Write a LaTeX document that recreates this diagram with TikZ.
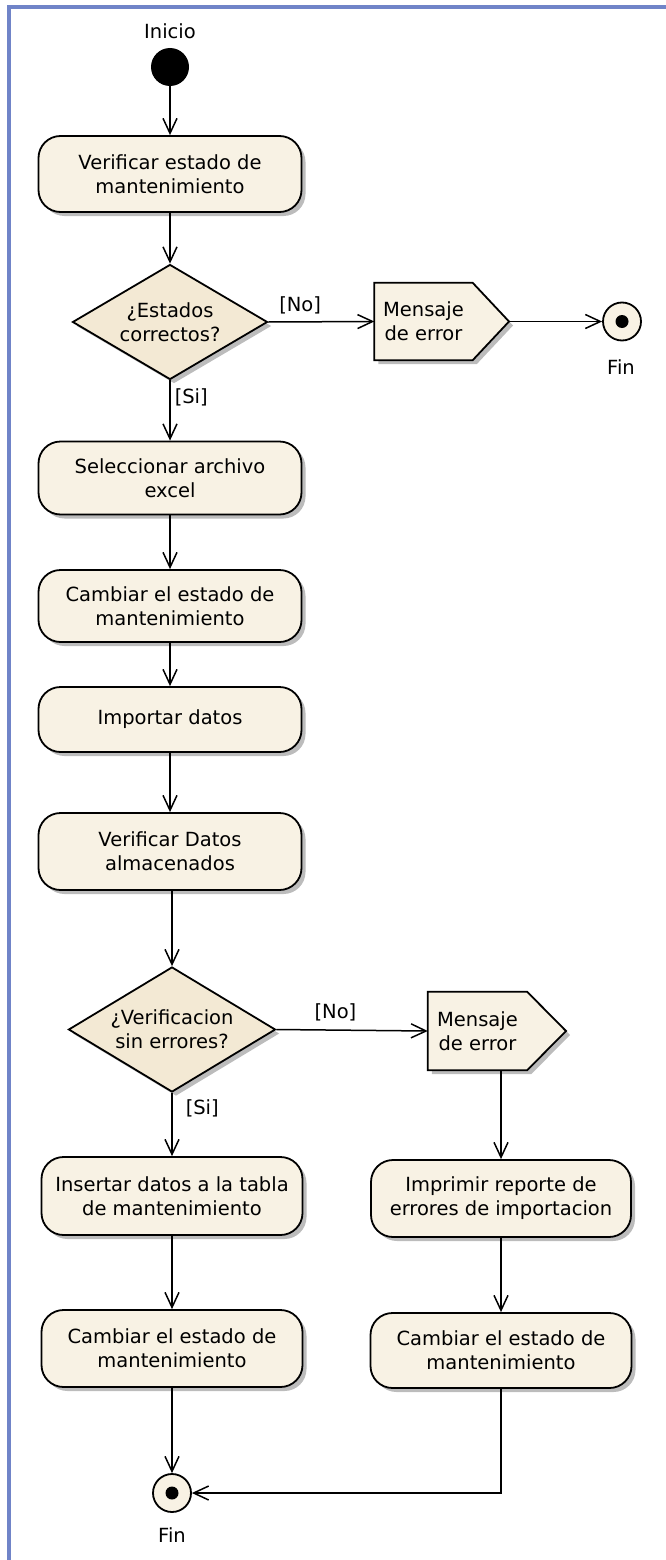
\documentclass[tikz,border=0pt]{standalone}
\usepackage{fontspec}
\setmainfont{DejaVu Sans}
\usetikzlibrary{shapes.geometric,arrows.meta,shadows,backgrounds}
\definecolor{boxfill}{RGB}{248,242,228}
\definecolor{diafill}{RGB}{243,233,212}
\definecolor{frameblue}{RGB}{112,132,200}
\definecolor{shadowgray}{RGB}{165,165,165}
\begin{document}
\begin{tikzpicture}[x=1pt,y=-1pt,
  txt/.style={font=\fontsize{19.5}{24}\selectfont},
  shad/.style={drop shadow={shadow xshift=4pt, shadow yshift=-4pt, fill=shadowgray, opacity=0.75}},
  act/.style={txt, rectangle, rounded corners=22pt, draw=black, line width=1.8pt, fill=boxfill,
    minimum width=263pt, minimum height=76pt, align=center, inner sep=0pt, shad},
  dec/.style={txt, diamond, aspect=1.7, draw=black, line width=1.8pt, fill=diafill,
    align=center, inner sep=0pt, shad},
  msgtext/.style={txt, rectangle, minimum width=98pt, minimum height=77pt, align=center, inner sep=0pt},
  msgshape/.style={draw=black, line width=1.8pt, fill=boxfill, line join=miter, shad},
  startnode/.style={circle, fill=black, minimum size=38pt, inner sep=0pt},
  finalnode/.style={circle, draw=black, line width=1.8pt, fill=boxfill, minimum size=38pt, inner sep=0pt,
    path picture={\fill[black] (path picture bounding box.center) circle (6.5pt);}},
  lbl/.style={txt, inner sep=0pt},
  flow/.style={draw=black, line width=1.5pt, -{Straight Barb[length=15pt,width=14pt]}}
]
\useasboundingbox (0,0) rectangle (665,1560);
% frame
\draw[frameblue, line width=3.5pt] (9,1562) -- (9,7) -- (667,7);

% top part
\node[lbl] (inicio) at (170,31) {Inicio};
\node[startnode] (start) at (170,67) {};
\node[act] (b1) at (170,174) {Verificar estado de\\mantenimiento};
\node[dec, minimum width=195pt, minimum height=115pt] (d1) at (170,322) {¿Estados\\correctos?};
\node[msgtext] (m1) at (423.5,321.5) {Mensaje\\de error};
\coordinate (m1tip) at (509,321.5);
\node[finalnode] (fin1) at (622,321.5) {};
\node[lbl] (fin1lbl) at (621,367) {Fin};

\node[act, minimum height=73pt] (b2) at (170,478) {Seleccionar archivo\\excel};
\node[act, minimum height=72pt] (b3) at (170,606) {Cambiar el estado de\\mantenimiento};
\node[act, minimum height=65pt] (b4) at (170,719.5) {Importar datos};
\node[act, minimum height=77pt] (b5) at (170,851.5) {Verificar Datos\\almacenados};

% lower part
\node[dec, minimum width=207pt, minimum height=125pt] (d2) at (172,1029.5) {¿Verificacion\\sin errores?};
\node[msgtext, minimum width=99pt, minimum height=78pt] (m2) at (477.5,1031) {Mensaje\\de error};
\coordinate (m2tip) at (566,1031);
\node[act, minimum width=261pt, minimum height=78pt] (b6) at (172,1196) {Insertar datos a la tabla\\de mantenimiento};
\node[act, minimum width=260pt, minimum height=77pt] (b7) at (501,1198.5) {Imprimir reporte de\\errores de importacion};
\node[act, minimum width=261pt, minimum height=77pt] (b8) at (172,1348.5) {Cambiar el estado de\\mantenimiento};
\node[act, minimum width=261pt, minimum height=75pt] (b9) at (501,1350.5) {Cambiar el estado de\\mantenimiento};
\node[finalnode] (fin2) at (172,1493) {};
\node[lbl] (fin2lbl) at (172,1535) {Fin};

% signal shapes behind their texts
\begin{scope}[on background layer]
  \draw[msgshape] (m1.north west) -- (m1.north east) -- (m1tip) -- (m1.south east) -- (m1.south west) -- cycle;
  \draw[msgshape] (m2.north west) -- (m2.north east) -- (m2tip) -- (m2.south east) -- (m2.south west) -- cycle;
\end{scope}

% connectors
\draw[flow] (start) -- (b1);
\draw[flow] (b1) -- (d1);
\draw[flow] (d1.east) -- node[lbl, pos=0.3, above=7pt] {[No]} (m1.west);
\draw[flow] (m1tip) -- (fin1.west);
\draw[flow] (d1.south) -- node[lbl, pos=0.28, right=4pt] {[Si]} (b2.north);
\draw[flow] (b2) -- (b3);
\draw[flow] (b3) -- (b4);
\draw[flow] (b4) -- (b5);
\draw[flow] (b5.south -| d2.north) -- (d2.north);
\draw[flow] (d2.east) -- node[lbl, pos=0.39, above=8pt] {[No]} (m2.west);
\draw[flow] (d2.south) -- node[lbl, pos=0.25, right=13pt] {[Si]} (b6.north);
\draw[flow] (b7.north |- m2.south) -- (b7.north);
\draw[flow] (b6) -- (b8);
\draw[flow] (b7) -- (b9);
\draw[flow] (b8) -- (fin2);
\draw[flow] (b9.south) |- (fin2.east);
\end{tikzpicture}
\end{document}
